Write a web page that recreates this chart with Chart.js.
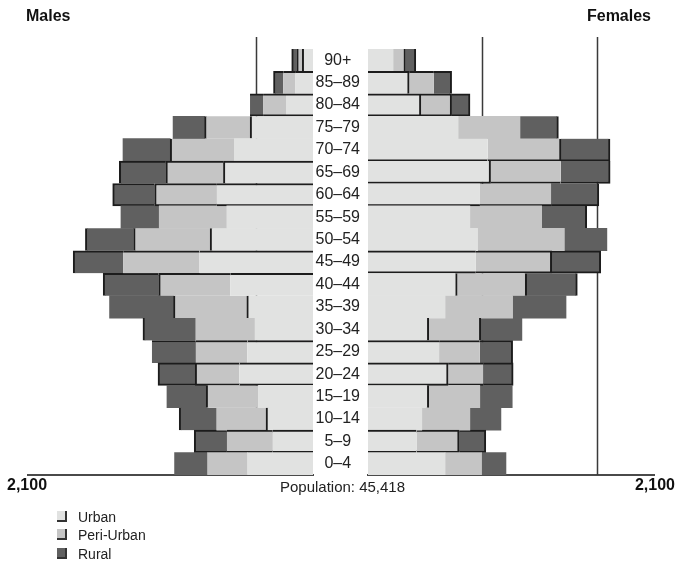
<!DOCTYPE html>
<html>
<head>
<meta charset="utf-8">
<script src="https://cdn.jsdelivr.net/npm/chart.js@4.4.0/dist/chart.umd.min.js"></script>
<style>
  body { margin: 0; background: #fff; font-family: 'Liberation Sans', Arial, sans-serif; }
  #wrap { position: relative; width: 677px; height: 562px; overflow: hidden; }
  canvas { position: absolute; top: 0; }
  #left { left: 0; }
  #right { left: 313px; }
  .t { position: absolute; color: #111; white-space: nowrap; }
  .big { font-weight: bold; font-size: 16px; line-height: 16px; }
  #pop { font-size: 15px; line-height: 15px; left: 0; width: 685px; text-align: center; top: 479px; color: #222; }
  .leg { position: absolute; left: 57px; font-size: 14px; line-height: 14px; color: #222; white-space: nowrap; }
  .leg i { position: absolute; left: 0; top: 1px; width: 8px; height: 9px; border-right: 2px solid #333; border-bottom: 2px solid #333; }
  .leg span { position: absolute; left: 21px; top: 0; }
</style>
</head>
<body>
<div id="wrap">
  <canvas id="left" width="320" height="562"></canvas>
  <canvas id="right" width="364" height="562"></canvas>
  <div class="t big" style="left:26px; top:8px;">Males</div>
  <div class="t big" style="right:26px; top:8px;">Females</div>
  <div class="t big" style="left:7px; top:477px;">2,100</div>
  <div class="t big" style="right:2px; top:477px;">2,100</div>
  <div class="t" id="pop">Population: 45,418</div>
  <div id="legend"></div>
</div>
<script>
const ages = ['90+', '85–89', '80–84', '75–79', '70–74', '65–69', '60–64', '55–59', '50–54', '45–49',
  '40–44', '35–39', '30–34', '25–29', '20–24', '15–19', '10–14', '5–9', '0–4'];

const maleUrban = [79, 132, 199, 463, 579, 660, 708, 635, 758, 836, 610, 488, 427, 483, 542, 402, 346, 296, 483];
const malePeri  = [41, 88, 169, 336, 473, 424, 459, 498, 564, 563, 527, 540, 436, 380, 326, 385, 363, 338, 294];
const maleRural = [37, 71, 96, 232, 348, 343, 309, 282, 355, 368, 409, 471, 390, 324, 274, 289, 277, 241, 243];

const femaleUrban = [184, 302, 388, 662, 878, 900, 822, 748, 805, 792, 655, 566, 446, 522, 588, 446, 395, 356, 566];
const femalePeri  = [91, 182, 226, 454, 539, 515, 522, 527, 637, 557, 510, 496, 382, 299, 257, 375, 353, 313, 268];
const femaleRural = [76, 130, 135, 282, 360, 363, 351, 331, 312, 360, 372, 392, 302, 241, 221, 238, 228, 196, 179];

const seriesNames = ['Urban', 'Peri-Urban', 'Rural'];
const xMax = 2100;
const leftGrid = [420];
const rightGrid = [840, 1680];

const colors = ['#e1e2e1', '#c5c5c5', '#606060'];

// dark edge lines seen on some rows: t=top, b=bottom, 1=urban|peri, 2=peri|rural, o=outer end
const leftEdges = ['o12', 'to', 'tb', '12', '2', 'to12', 'tob2', '', 'o12', 'to', 'to2', '12', 'o', 't',
  'tob2', '2', 'o1', 'tob', ''];
const rightEdges = ['o2', 'to1', 'tbo12', 'o', 'ob2', 'ob1', 'ob', 'o', '', 'tbo2', 'o12', '', '12', 'to',
  'tbo1', '1', '', 'tbo2', ''];

function edgeWidth(codes, outer) {
  return ctx => {
    const code = codes[ctx.dataIndex] || '';
    const w = { top: 0, right: 0, bottom: 0, left: 0 };
    if (code.includes('t')) w.top = 2;
    if (code.includes('b')) w.bottom = 2;
    const key = ctx.datasetIndex === 2 ? 'o' : String(ctx.datasetIndex + 1);
    if (code.includes(key)) w[outer] = 2;
    return w;
  };
}

// vertical reference lines, drawn under the bars and a bit above the plot
const refLines = {
  id: 'refLines',
  beforeDatasetsDraw(chart, args, opts) {
    const { ctx, chartArea, scales: { x } } = chart;
    ctx.save();
    ctx.strokeStyle = '#3a3a3a';
    ctx.lineWidth = 1.5;
    (opts.values || []).forEach(v => {
      const px = Math.round(x.getPixelForValue(v)) + 0.5;
      ctx.beginPath();
      ctx.moveTo(px, chartArea.top - 12);
      ctx.lineTo(px, chartArea.bottom);
      ctx.stroke();
    });
    ctx.restore();
  }
};

function sets(u, p, r, codes, outer) {
  return [u, p, r].map((d, i) => ({
    label: seriesNames[i],
    data: d,
    backgroundColor: colors[i],
    borderColor: '#1c1c1c',
    borderSkipped: false,
    borderWidth: edgeWidth(codes, outer),
    barPercentage: 1,
    categoryPercentage: 1
  }));
}

function xScale(reverse) {
  return {
    stacked: true,
    reverse: reverse,
    min: 0,
    max: xMax,
    ticks: { display: false },
    grid: { display: false, drawTicks: false },
    border: { color: '#4a4a4a', width: 2 }
  };
}

new Chart(document.getElementById('left'), {
  type: 'bar',
  data: { labels: ages, datasets: sets(maleUrban, malePeri, maleRural, leftEdges, 'left') },
  options: {
    indexAxis: 'y',
    responsive: false,
    animation: false,
    layout: { padding: { left: 28, right: 7, top: 49, bottom: 87 } },
    scales: {
      x: xScale(true),
      y: { stacked: true, display: false }
    },
    plugins: {
      legend: { display: false },
      tooltip: { enabled: false },
      refLines: { values: leftGrid }
    }
  },
  plugins: [refLines]
});

new Chart(document.getElementById('right'), {
  type: 'bar',
  data: { labels: ages, datasets: sets(femaleUrban, femalePeri, femaleRural, rightEdges, 'right') },
  options: {
    indexAxis: 'y',
    responsive: false,
    animation: false,
    layout: { padding: { left: 0, right: 23, top: 49, bottom: 87 } },
    scales: {
      x: xScale(false),
      y: {
        stacked: true,
        position: 'left',
        grid: { display: false, drawTicks: false },
        border: { display: false },
        afterFit(s) { s.width = 55; },
        ticks: {
          autoSkip: false,
          crossAlign: 'center',
          padding: 8,
          color: '#222',
          font: { family: "'Liberation Sans Narrow', 'Liberation Sans', Arial", size: 16 }
        }
      }
    },
    plugins: {
      legend: { display: false },
      tooltip: { enabled: false },
      refLines: { values: rightGrid }
    }
  },
  plugins: [refLines]
});

// legend below the chart
const legend = document.getElementById('legend');
seriesNames.forEach((name, i) => {
  const row = document.createElement('div');
  row.className = 'leg';
  row.style.top = (510 + i * 18.3) + 'px';
  row.innerHTML = '<i style="background:' + colors[i] + '"></i><span>' + name + '</span>';
  legend.appendChild(row);
});
</script>
</body>
</html>
